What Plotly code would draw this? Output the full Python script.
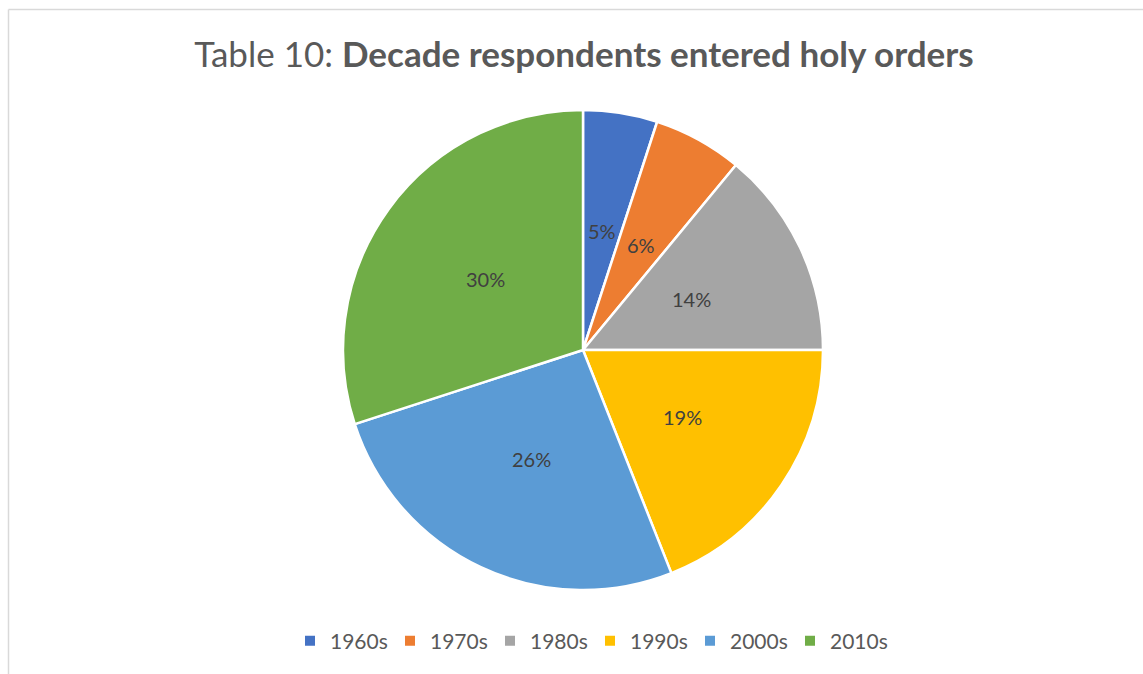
import math
import plotly.graph_objects as go

# Share of respondents by decade they entered holy orders
decades = ["1960s", "1970s", "1980s", "1990s", "2000s", "2010s"]
shares = [5, 6, 14, 19, 26, 30]
colors = ["#4472C4", "#ED7D31", "#A5A5A5", "#FFC000", "#5B9BD5", "#70AD47"]

W, H = 1143, 674
FONT = "Lato"

# pie area in paper fractions
dom_x = [343 / W, 823 / W]
dom_y = [1 - 590 / H, 1 - 110 / H]

fig = go.Figure(
    go.Pie(
        labels=decades,
        values=shares,
        sort=False,
        direction="clockwise",
        rotation=0,
        marker=dict(colors=colors, line=dict(color="white", width=2.5)),
        textinfo="none",
        hoverinfo="label+percent",
        domain=dict(x=dom_x, y=dom_y),
    )
)

# percentage labels at half the radius along each slice's bisector
cx = (dom_x[0] + dom_x[1]) / 2 * W
cy = (1 - (dom_y[0] + dom_y[1]) / 2) * H
radius = (dom_x[1] - dom_x[0]) * W / 2
total = sum(shares)
cum = 0
for v in shares:
    mid = (cum + v / 2) / total * 2 * math.pi
    cum += v
    px = cx + 0.5 * radius * math.sin(mid)
    py = cy - 0.5 * radius * math.cos(mid)
    fig.add_annotation(
        x=px / W, y=1 - py / H, xref="paper", yref="paper",
        xanchor="center", yanchor="middle",
        text=f"{round(v / total * 100)}%", showarrow=False,
        font=dict(family=FONT, size=20, color="#404040"),
    )

# chart frame edges
fig.add_shape(type="line", xref="paper", yref="paper",
              x0=8.5 / W, x1=1.01, y0=1 - 9.5 / H, y1=1 - 9.5 / H,
              line=dict(color="#D9D9D9", width=1.5))
fig.add_shape(type="line", xref="paper", yref="paper",
              x0=8.5 / W, x1=8.5 / W, y0=1 - 9.5 / H, y1=-0.01,
              line=dict(color="#D9D9D9", width=1.5))

fig.update_layout(
    width=W, height=H,
    margin=dict(l=0, r=0, t=0, b=0),
    paper_bgcolor="white",
    plot_bgcolor="white",
    font=dict(family=FONT, color="#595959"),
    title=dict(
        text="Table 10: <b>Decade respondents entered holy orders</b>",
        x=584 / W, xanchor="center",
        y=1 - 55 / H, yanchor="middle",
        font=dict(family=FONT, size=35, color="#595959"),
    ),
    legend=dict(
        orientation="h",
        x=290 / W, xanchor="left",
        y=1 - 641 / H, yanchor="middle",
        font=dict(family=FONT, size=21, color="#595959"),
        entrywidth=55,
        itemsizing="constant",
    ),
    showlegend=True,
)

fig.write_html("out.html")
